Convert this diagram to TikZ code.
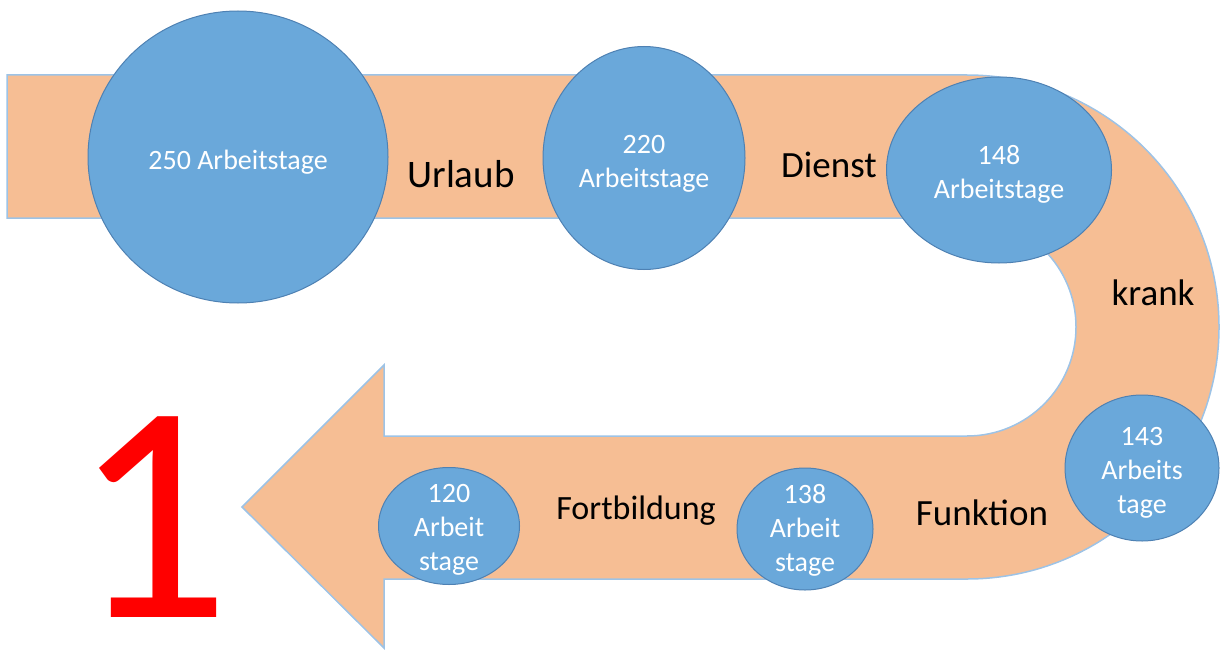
\documentclass[tikz,border=0pt]{standalone}
\usepackage{fontspec}
\setmainfont{Carlito}
\usetikzlibrary{shapes.geometric}
\definecolor{bandfill}{HTML}{F6BE94}
\definecolor{bandline}{HTML}{9DC3E6}
\definecolor{circfill}{HTML}{6AA8DA}
\definecolor{circline}{HTML}{4E81B3}
\definecolor{numred}{HTML}{FF0000}
\tikzset{
  station/.style={ellipse, fill=circfill, draw=circline, line width=1pt, inner sep=0pt},
  stationtext/.style={text=white, align=center, inner sep=0pt, font=\fontsize{28}{34}\selectfont},
  lbl/.style={anchor=base, text=black, inner sep=0pt, font=\fontsize{37}{44}\selectfont},
}
\begin{document}
\begin{tikzpicture}[x=1pt,y=-1pt]
\useasboundingbox (0,0) rectangle (1220,650);
% band with U-turn and arrow head
\draw[fill=bandfill, draw=bandline, line width=1.5pt, line join=miter]
  (7,75) -- (967,75) arc[start angle=-90, end angle=90, radius=252]
  -- (384,579) -- (384,648) -- (242,507) -- (384,365) -- (384,436)
  -- (967,436) arc[start angle=90, end angle=-90, radius=109]
  -- (7,218) -- cycle;
% stations
\node[station, minimum width=300, minimum height=292] (s250) at (238,157) {};
\node[station, minimum width=202, minimum height=223] (s220) at (644,158) {};
\node[station, minimum width=225, minimum height=186] (s148) at (999,170) {};
\node[station, minimum width=154, minimum height=146] (s143) at (1142,468) {};
\node[station, minimum width=136, minimum height=122] (s138) at (805,529) {};
\node[station, minimum width=141, minimum height=117] (s120) at (449,526) {};
\node[stationtext] (t250) at (238,162) {250 Arbeitstage};
\node[stationtext] (t220) at (644,164) {220\\Arbeitstage};
\node[stationtext] (t148) at (999,174) {148\\Arbeitstage};
\node[stationtext] (t143) at (1142,473) {143\\Arbeits\\tage};
\node[stationtext] (t138) at (805,530) {138\\Arbeit\\stage};
\node[stationtext] (t120) at (449,530) {120\\Arbeit\\stage};
% labels
\node[lbl, font=\fontsize{39}{46}\selectfont] (urlaub) at (461,187) {Urlaub};
\node[lbl] (dienst) at (829,177) {Dienst};
\node[lbl] (krank) at (1153,305) {krank};
\node[lbl, font=\fontsize{34}{40}\selectfont] (fortb) at (636,519) {Fortbildung};
\node[lbl] (funkt) at (982,525) {Funktion};
% big number
\node[anchor=base, inner sep=0pt, text=numred, font=\fontsize{312}{312}\selectfont] (one) at (152,617) {1};
\end{tikzpicture}
\end{document}
